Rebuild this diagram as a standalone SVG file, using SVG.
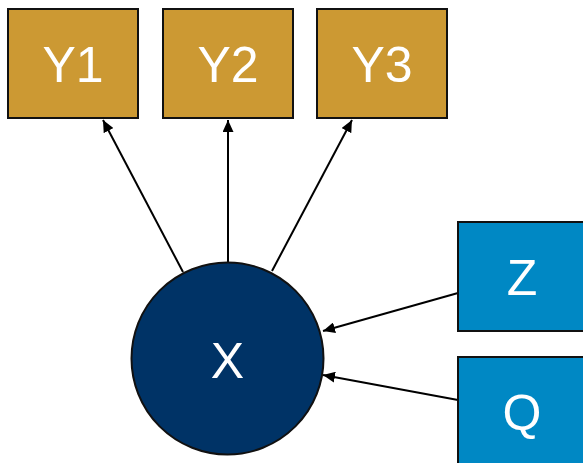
<svg xmlns="http://www.w3.org/2000/svg" width="583" height="463" viewBox="0 0 583 463">
  <defs>
    <marker id="arrow" viewBox="0 0 12 11" refX="12" refY="5.5" markerWidth="12" markerHeight="11" markerUnits="userSpaceOnUse" orient="auto">
      <path d="M0,0 L12,5.5 L0,11 z" fill="#000"/>
    </marker>
    <style>
      .gold { fill: #CC9933; stroke: #111; stroke-width: 2; }
      .blue { fill: #0088C4; stroke: #111; stroke-width: 2; }
      .navy { fill: #003366; stroke: #111; stroke-width: 2; }
      .lbl { font-family: "Liberation Sans", Arial, sans-serif; font-size: 50px; fill: #fff; text-anchor: middle; dominant-baseline: central; }
      .edge { stroke: #000; stroke-width: 2; fill: none; marker-end: url(#arrow); }
    </style>
  </defs>
  <rect width="583" height="463" fill="#fff"/>

  <g id="connectors">
    <line class="edge" x1="183" y1="272" x2="103" y2="120"/>
    <line class="edge" x1="228" y1="264" x2="228" y2="120"/>
    <line class="edge" x1="272" y1="271" x2="352" y2="120"/>
    <line class="edge" x1="458" y1="293" x2="323" y2="331"/>
    <line class="edge" x1="458" y1="400" x2="323" y2="375"/>
  </g>

  <g id="Y1">
    <rect class="gold" x="8" y="9" width="130" height="109"/>
    <text class="lbl" x="73" y="65">Y1</text>
  </g>
  <g id="Y2">
    <rect class="gold" x="163" y="9" width="130" height="109"/>
    <text class="lbl" x="228" y="65">Y2</text>
  </g>
  <g id="Y3">
    <rect class="gold" x="317" y="9" width="130" height="109"/>
    <text class="lbl" x="382" y="65">Y3</text>
  </g>
  <g id="X">
    <circle class="navy" cx="227.5" cy="358.5" r="96"/>
    <text class="lbl" x="227.5" y="361">X</text>
  </g>
  <g id="Z">
    <rect class="blue" x="458" y="222" width="130" height="109"/>
    <text class="lbl" x="522" y="278">Z</text>
  </g>
  <g id="Q">
    <rect class="blue" x="458" y="357" width="130" height="109"/>
    <text class="lbl" x="522" y="413">Q</text>
  </g>
</svg>
